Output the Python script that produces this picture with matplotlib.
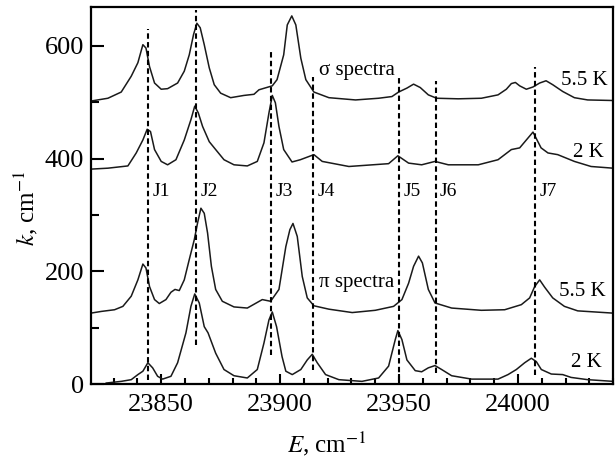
import matplotlib
matplotlib.use("Agg")
from matplotlib import pyplot as plt
from matplotlib.ticker import MultipleLocator

plt.rcParams['font.family'] = ['Liberation Serif', 'DejaVu Serif']
plt.rcParams['mathtext.fontset'] = 'stix'

# sigma spectra, 5.5 K
sig55_x = [23819, 23827.6, 23833.2, 23837.4, 23840.2, 23842.3, 23843.6, 23845.1, 23847.2, 23850,
           23852.7, 23856.9, 23859.7, 23861.8, 23863.6, 23865, 23866.4, 23868.1, 23870.2, 23872.3,
           23875, 23879.2, 23884.8, 23889, 23891.1, 23896.7, 23898.7, 23901.5, 23903, 23904.9,
           23906.6, 23908.7, 23910.8, 23914.2, 23920.5, 23931.7, 23941.4, 23947, 23949.8, 23953.3,
           23956.1, 23958.9, 23962.3, 23965.8, 23974.9, 23984.6, 23991.6, 23995.1, 23997.2, 23998.9,
           24000.7, 24003.5, 24006.3, 24009.1, 24011.8, 24014.6, 24018.8, 24023.7, 24029.3, 24040]
sig55_y = [501, 507, 518, 546, 570, 602, 596, 563, 534, 523,
           524, 534, 555, 584, 620, 640, 632, 602, 561, 531,
           516, 508, 512, 514, 522, 529, 540, 584, 637, 653,
           637, 578, 540, 518, 508, 504, 507, 510, 518, 525,
           532, 526, 513, 507, 506, 507, 513, 523, 533, 535,
           529, 523, 527, 534, 538, 531, 519, 508, 504, 503]

# sigma spectra, 2 K
sig2_x = [23819, 23827.6, 23836, 23839.5, 23842.3, 23844.1, 23845.5, 23847.2, 23850, 23852.7,
          23856.2, 23859.7, 23862.5, 23864.1, 23865.6, 23867.4, 23870.2, 23872.9, 23876.4, 23880.6,
          23886.2, 23890.4, 23893.2, 23895.3, 23896.7, 23898, 23899.5, 23901.5, 23905, 23908.5,
          23914.2, 23917.7, 23928.9, 23945.6, 23949.5, 23954, 23959.5, 23965.1, 23970.7, 23983.3,
          23991.6, 23997.2, 24000.7, 24006.3, 24009.7, 24012.6, 24016.7, 24023.7, 24030.7, 24040]
sig2_y = [381, 383, 387, 410, 433, 452, 448, 416, 395, 389,
          398, 433, 469, 493, 481, 457, 430, 416, 398, 389,
          387, 395, 428, 481, 512, 499, 457, 416, 394, 398,
          407, 395, 386, 391, 405, 392, 389, 395, 389, 389,
          398, 416, 419, 447, 419, 410, 407, 395, 386, 383]

# pi spectra, 5.5 K
pi55_x = [23819, 23824.8, 23830.4, 23833.9, 23837.4, 23840.2, 23842.3, 23843.6, 23845.1, 23847.2,
          23849.2, 23852, 23854.1, 23855.8, 23857.6, 23859.7, 23861.8, 23863.9, 23865.3, 23866.7,
          23868.1, 23869.5, 23871.1, 23872.9, 23875.7, 23880.6, 23886.2, 23892.5, 23896, 23899.5,
          23902.4, 23904.1, 23905.4, 23907.2, 23909.3, 23911.4, 23914.2, 23920.5, 23930.3, 23940,
          23947.7, 23951.2, 23954, 23956.1, 23958.2, 23959.8, 23962.3, 23965.1, 23972.1, 23984.6,
          23994.4, 24001.4, 24004.9, 24007, 24009.1, 24011.2, 24014.6, 24019.5, 24025.1, 24040]
pi55_y = [125, 129, 132, 138, 156, 185, 213, 206, 173, 150,
          143, 150, 163, 168, 166, 185, 221, 256, 286, 312,
          303, 268, 209, 168, 147, 137, 135, 150, 147, 168,
          244, 274, 285, 262, 191, 153, 139, 133, 127, 131,
          138, 150, 179, 209, 227, 215, 168, 144, 135, 131,
          132, 141, 153, 173, 185, 172, 153, 138, 130, 126]

# pi spectra, 2 K
pi2_x = [23826.9, 23833.2, 23837.4, 23840.2, 23842.3, 23844.4, 23846.4, 23848.5, 23850.6, 23854.1,
         23856.9, 23860.4, 23862.5, 23864.1, 23866, 23868.1, 23869.7, 23872.9, 23876.4, 23880.6,
         23886.2, 23890.4, 23893.2, 23895.3, 23896.7, 23898.5, 23900.8, 23902.4, 23905.1, 23908.7,
         23911.4, 23913.5, 23915.6, 23919.1, 23924.7, 23934.4, 23941.4, 23945.6, 23948.4, 23949.5,
         23951.2, 23953.3, 23956.8, 23959.5, 23962.3, 23965.1, 23967.9, 23972.1, 23980.5, 23991.6,
         23995.8, 23999.3, 24002.8, 24005.6, 24007.7, 24009.8, 24014, 24018.8, 24022.3, 24029.3, 24040]
pi2_y = [2, 5, 8, 17, 23, 38, 29, 14, 9, 14,
         38, 91, 138, 160, 144, 102, 91, 55, 26, 15,
         11, 26, 73, 114, 128, 102, 49, 23, 17, 26,
         43, 53, 38, 17, 8, 5, 11, 32, 79, 95,
         79, 43, 24, 22, 29, 33, 26, 15, 9, 9,
         17, 26, 38, 46, 40, 26, 18, 17, 12, 8, 5]

# dashed markers
j_names = ['J1', 'J2', 'J3', 'J4', 'J5', 'J6', 'J7']
j_pos = [23844.4, 23864.6, 23896.3, 23913.9, 23950, 23965.4, 24007.1]
j_top = [630, 664, 589, 545, 543, 538, 563]
j_bot = [7, 69, 51, 25, 5, 19, 16]

fig = plt.figure(figsize=(6.15, 4.59), dpi=100)
ax = fig.add_axes([0.148, 0.163, 0.849, 0.822])

for xs, ys in [(sig55_x, sig55_y), (sig2_x, sig2_y), (pi55_x, pi55_y), (pi2_x, pi2_y)]:
    ax.plot(xs, ys, color='#1a1a1a', lw=1.1)

for name, x, t, b in zip(j_names, j_pos, j_top, j_bot):
    ax.plot([x, x], [b, t], color='black', lw=1.5, linestyle=(0, (2.6, 1.6)))
    ax.text(x + 1.8, 342, name, fontsize=14, ha='left', va='center')

ax.text(23916.3, 556, 'σ spectra', fontsize=15, ha='left', va='center')
ax.text(23916.3, 181, 'π spectra', fontsize=15, ha='left', va='center')
ax.text(24037.5, 539, '5.5 K', fontsize=15, ha='right', va='center')
ax.text(24036, 410, '2 K', fontsize=15, ha='right', va='center')
ax.text(24037, 165, '5.5 K', fontsize=15, ha='right', va='center')
ax.text(24035, 38, '2 K', fontsize=15, ha='right', va='center')

ax.set_xlim(23820.5, 24040)
ax.set_ylim(0, 669)
ax.xaxis.set_major_locator(MultipleLocator(50))
ax.xaxis.set_minor_locator(MultipleLocator(10))
ax.yaxis.set_major_locator(MultipleLocator(200))
ax.yaxis.set_minor_locator(MultipleLocator(100))
ax.tick_params(axis='both', which='both', direction='in', width=1.5, labelsize=19)
ax.tick_params(axis='y', which='major', length=9, pad=5)
ax.tick_params(axis='y', which='minor', length=6)
ax.tick_params(axis='x', which='major', length=7, pad=7)
ax.tick_params(axis='x', which='minor', length=4.5)
for sp in ax.spines.values():
    sp.set_linewidth(1.6)

ax.set_xlabel(r'$E$, cm$^{-1}$', fontsize=18)
ax.set_ylabel(r'$k$, cm$^{-1}$', fontsize=18)
ax.xaxis.set_label_coords(0.452, -0.12)
ax.yaxis.set_label_coords(-0.098, 0.467)

plt.savefig('out.png', dpi=100)
